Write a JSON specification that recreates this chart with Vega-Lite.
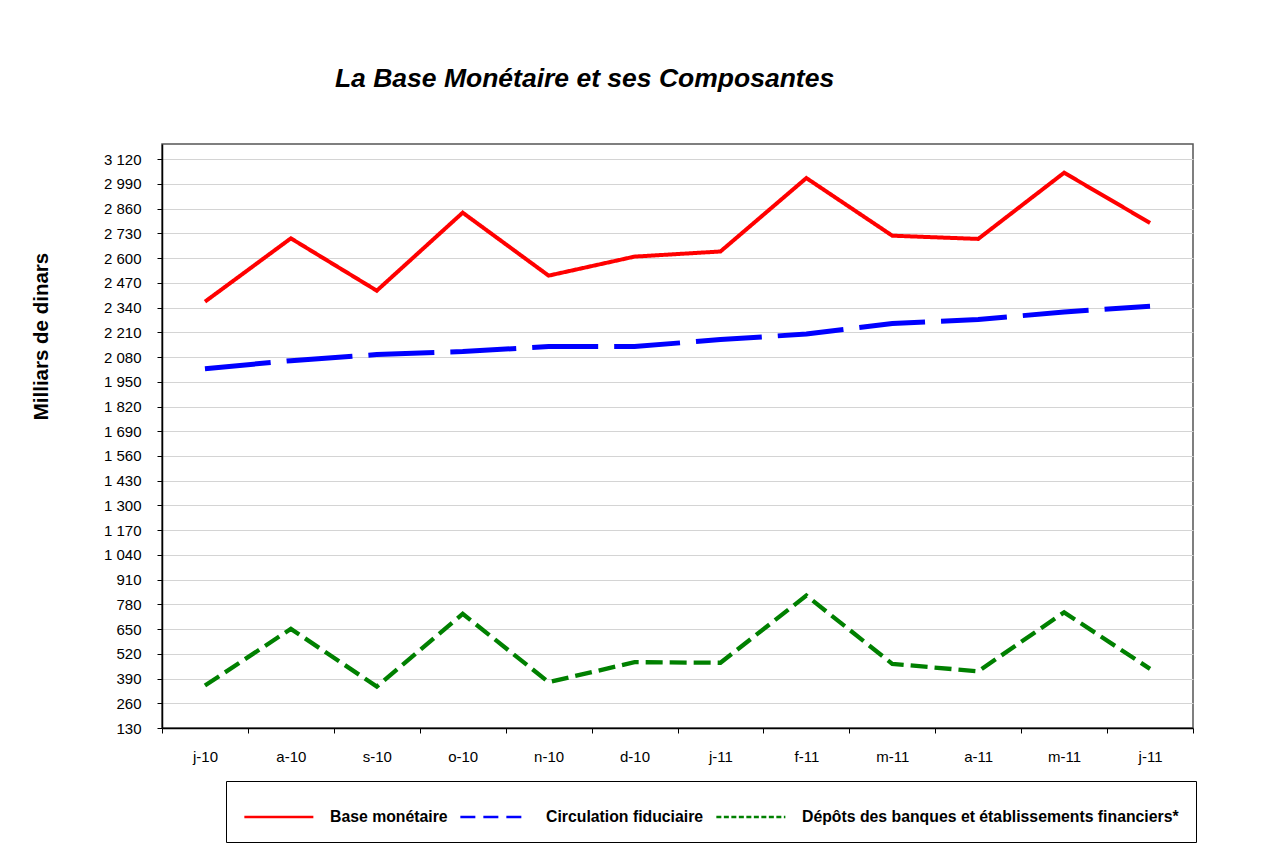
{
  "$schema": "https://vega.github.io/schema/vega-lite/v6.json",
  "autosize": "none",
  "width": 1031,
  "height": 584,
  "padding": {"left": 162, "top": 144, "right": 76, "bottom": 121},
  "background": "white",
  "title": {
    "text": "La Base Monétaire et ses Composantes",
    "font": "Liberation Sans",
    "fontSize": 26.5,
    "fontWeight": "bold",
    "fontStyle": "italic",
    "color": "black",
    "anchor": "middle",
    "frame": "group",
    "dx": -93,
    "baseline": "alphabetic",
    "offset": 31
  },
  "data": {
    "values": [
      {"m": "2010-07", "serie": "Base monétaire", "v": 2371},
      {"m": "2010-08", "serie": "Base monétaire", "v": 2704},
      {"m": "2010-09", "serie": "Base monétaire", "v": 2429},
      {"m": "2010-10", "serie": "Base monétaire", "v": 2839},
      {"m": "2010-11", "serie": "Base monétaire", "v": 2508},
      {"m": "2010-12", "serie": "Base monétaire", "v": 2608},
      {"m": "2011-01", "serie": "Base monétaire", "v": 2635},
      {"m": "2011-02", "serie": "Base monétaire", "v": 3021},
      {"m": "2011-03", "serie": "Base monétaire", "v": 2718},
      {"m": "2011-04", "serie": "Base monétaire", "v": 2701},
      {"m": "2011-05", "serie": "Base monétaire", "v": 3049},
      {"m": "2011-06", "serie": "Base monétaire", "v": 2785},
      {"m": "2010-07", "serie": "Circulation fiduciaire", "v": 2019},
      {"m": "2010-08", "serie": "Circulation fiduciaire", "v": 2061},
      {"m": "2010-09", "serie": "Circulation fiduciaire", "v": 2093},
      {"m": "2010-10", "serie": "Circulation fiduciaire", "v": 2109},
      {"m": "2010-11", "serie": "Circulation fiduciaire", "v": 2135},
      {"m": "2010-12", "serie": "Circulation fiduciaire", "v": 2135},
      {"m": "2011-01", "serie": "Circulation fiduciaire", "v": 2172},
      {"m": "2011-02", "serie": "Circulation fiduciaire", "v": 2201},
      {"m": "2011-03", "serie": "Circulation fiduciaire", "v": 2256},
      {"m": "2011-04", "serie": "Circulation fiduciaire", "v": 2277},
      {"m": "2011-05", "serie": "Circulation fiduciaire", "v": 2317},
      {"m": "2011-06", "serie": "Circulation fiduciaire", "v": 2347},
      {"m": "2010-07", "serie": "Dépôts des banques et établissements financiers*", "v": 353},
      {"m": "2010-08", "serie": "Dépôts des banques et établissements financiers*", "v": 651},
      {"m": "2010-09", "serie": "Dépôts des banques et établissements financiers*", "v": 348},
      {"m": "2010-10", "serie": "Dépôts des banques et établissements financiers*", "v": 730},
      {"m": "2010-11", "serie": "Dépôts des banques et établissements financiers*", "v": 371},
      {"m": "2010-12", "serie": "Dépôts des banques et établissements financiers*", "v": 476},
      {"m": "2011-01", "serie": "Dépôts des banques et établissements financiers*", "v": 473},
      {"m": "2011-02", "serie": "Dépôts des banques et établissements financiers*", "v": 826},
      {"m": "2011-03", "serie": "Dépôts des banques et établissements financiers*", "v": 467},
      {"m": "2011-04", "serie": "Dépôts des banques et établissements financiers*", "v": 428},
      {"m": "2011-05", "serie": "Dépôts des banques et établissements financiers*", "v": 738},
      {"m": "2011-06", "serie": "Dépôts des banques et établissements financiers*", "v": 441}
    ]
  },
  "mark": {"type": "line", "strokeJoin": "miter"},
  "encoding": {
    "x": {
      "field": "m",
      "type": "ordinal",
      "bandPosition": 0.5,
      "scale": {"type": "band", "paddingInner": 0, "paddingOuter": 0},
      "axis": {
        "title": null,
        "labelExpr": "isString(datum.value) && length(datum.value) == 7 ? ['j','f','m','a','m','j','j','a','s','o','n','d'][toNumber(substring(datum.value,5,7))-1] + '-' + substring(datum.value,2,4) : ''",
        "labelAngle": 0,
        "tickBand": "extent",
        "tickSize": 5,
        "tickColor": "black",
        "domainColor": "black",
        "domainWidth": 1.5,
        "labelFont": "Liberation Sans",
        "labelFontSize": 15,
        "labelColor": "black",
        "labelPadding": 16,
        "grid": false
      }
    },
    "y": {
      "field": "v",
      "type": "quantitative",
      "scale": {"domain": [130, 3200], "nice": false, "zero": false},
      "axis": {
        "title": "Milliars de dinars",
        "titleFont": "Liberation Sans",
        "titleFontSize": 20.5,
        "titleFontWeight": "bold",
        "titleColor": "black",
        "titleX": -115,
        "titleY": 192,
        "titleAngle": -90,
        "titleAlign": "center",
        "titleBaseline": "alphabetic",
        "values": [130, 260, 390, 520, 650, 780, 910, 1040, 1170, 1300, 1430, 1560, 1690, 1820, 1950, 2080, 2210, 2340, 2470, 2600, 2730, 2860, 2990, 3120],
        "labelExpr": "replace(format(datum.value, ','), ',', ' ')",
        "labelFont": "Liberation Sans",
        "labelFontSize": 15,
        "labelColor": "black",
        "labelPadding": 16,
        "tickSize": 5,
        "tickColor": "black",
        "domainColor": "black",
        "domainWidth": 1.5,
        "grid": true,
        "gridColor": "#d4d4d4",
        "gridWidth": 1.2
      }
    },
    "color": {
      "field": "serie",
      "type": "nominal",
      "scale": {
        "domain": ["Base monétaire", "Circulation fiduciaire", "Dépôts des banques et établissements financiers*"],
        "range": ["#ff0000", "#0000ff", "#008000"]
      },
      "legend": {
        "title": null,
        "orient": "none",
        "legendX": 64,
        "legendY": 637,
        "direction": "horizontal",
        "columns": 3,
        "gridAlign": "none",
        "strokeColor": "black",
        "padding": 17,
        "labelFont": "Liberation Sans",
        "labelFontSize": 15.8,
        "labelFontWeight": "bold",
        "labelColor": "black",
        "labelOffset": 49,
        "labelLimit": 0,
        "columnPadding": 6,
        "symbolType": "M-1,0H2.91",
        "symbolSize": 1246,
        "symbolStrokeWidth": 2.7,
        "encode": {
          "symbols": {
            "update": {
              "strokeWidth": {"value": 2.7},
              "strokeDash": {"signal": "datum.value == 'Circulation fiduciaire' ? [15,8] : datum.value == 'Base monétaire' ? [1,0] : [5,2.5]"}
            }
          }
        }
      }
    },
    "strokeDash": {
      "condition": [
        {"test": "datum.serie == 'Circulation fiduciaire'", "value": [66, 16]},
        {"test": "datum.serie == 'Base monétaire'", "value": [1, 0]}
      ],
      "value": [17, 7]
    },
    "strokeWidth": {
      "condition": [
        {"test": "datum.serie == 'Circulation fiduciaire'", "value": 5},
        {"test": "datum.serie == 'Base monétaire'", "value": 4}
      ],
      "value": 4.3
    }
  },
  "config": {
    "view": {"stroke": "#555555", "strokeWidth": 1.5}
  }
}
